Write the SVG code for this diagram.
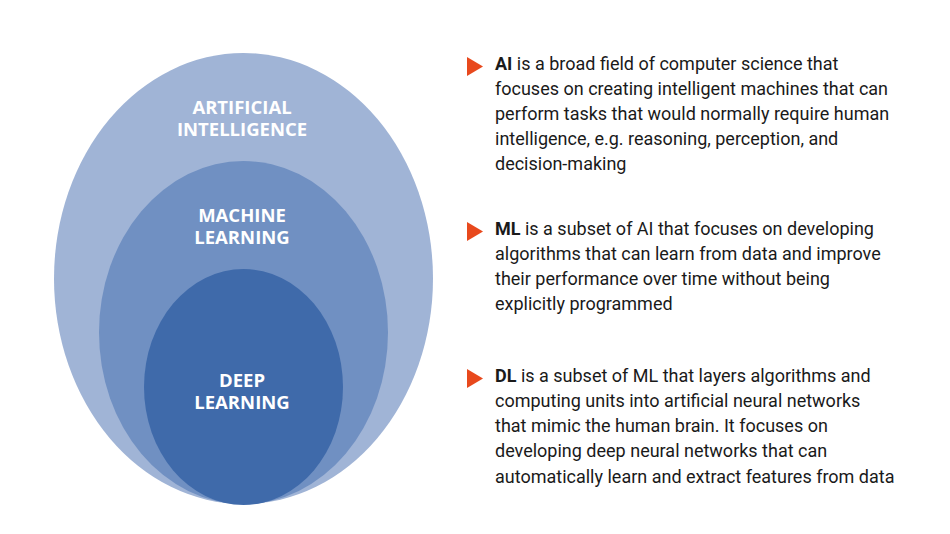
<svg xmlns="http://www.w3.org/2000/svg" width="950" height="534" viewBox="0 0 950 534">
<style>
.lbl{font-family:"Open Sans","DejaVu Sans",sans-serif;font-weight:700;font-size:18.5px;fill:#ffffff;text-anchor:middle}
.txt{font-family:Roboto,"Liberation Sans",sans-serif;font-size:18px;fill:#1a1a1a}
.b{font-weight:700}
.bul{fill:#E8491D}
</style>
<rect width="950" height="534" fill="#ffffff"/>
<g id="ai">
<ellipse cx="243.5" cy="278.5" rx="189.5" ry="225.5" fill="#A0B4D6"/>
<text class="lbl" x="242" y="114">ARTIFICIAL</text>
<text class="lbl" x="242" y="136">INTELLIGENCE</text>
</g>
<g id="ml">
<ellipse cx="243.5" cy="332.5" rx="144.5" ry="171.5" fill="#7090C2"/>
<text class="lbl" x="242" y="222">MACHINE</text>
<text class="lbl" x="242" y="244">LEARNING</text>
</g>
<g id="dl">
<ellipse cx="243.5" cy="387" rx="99.5" ry="118" fill="#3F6AAA"/>
<text class="lbl" x="242" y="387">DEEP</text>
<text class="lbl" x="242" y="409">LEARNING</text>
</g>
<g id="connectors"></g>
<g id="desc-ai">
<polygon class="bul" points="467,57 483,66.5 467,76"/>
<text class="txt" x="495" y="70"><tspan class="b">AI</tspan> is a broad field of computer science that</text>
<text class="txt" x="495" y="95">focuses on creating intelligent machines that can</text>
<text class="txt" x="495" y="120">perform tasks that would normally require human</text>
<text class="txt" x="495" y="145">intelligence, e.g. reasoning, perception, and</text>
<text class="txt" x="495" y="170">decision-making</text>
</g>
<g id="desc-ml">
<polygon class="bul" points="467,222 483,231.5 467,241"/>
<text class="txt" x="495" y="234.5"><tspan class="b">ML</tspan> is a subset of AI that focuses on developing</text>
<text class="txt" x="495" y="259.5">algorithms that can learn from data and improve</text>
<text class="txt" x="495" y="284.5">their performance over time without being</text>
<text class="txt" x="495" y="309.5">explicitly programmed</text>
</g>
<g id="desc-dl">
<polygon class="bul" points="467,369 483,378.5 467,388"/>
<text class="txt" x="495" y="381.5"><tspan class="b">DL</tspan> is a subset of ML that layers algorithms and</text>
<text class="txt" x="495" y="406.5">computing units into artificial neural networks</text>
<text class="txt" x="495" y="432">that mimic the human brain. It focuses on</text>
<text class="txt" x="495" y="457">developing deep neural networks that can</text>
<text class="txt" x="495" y="482.5">automatically learn and extract features from data</text>
</g>
</svg>
